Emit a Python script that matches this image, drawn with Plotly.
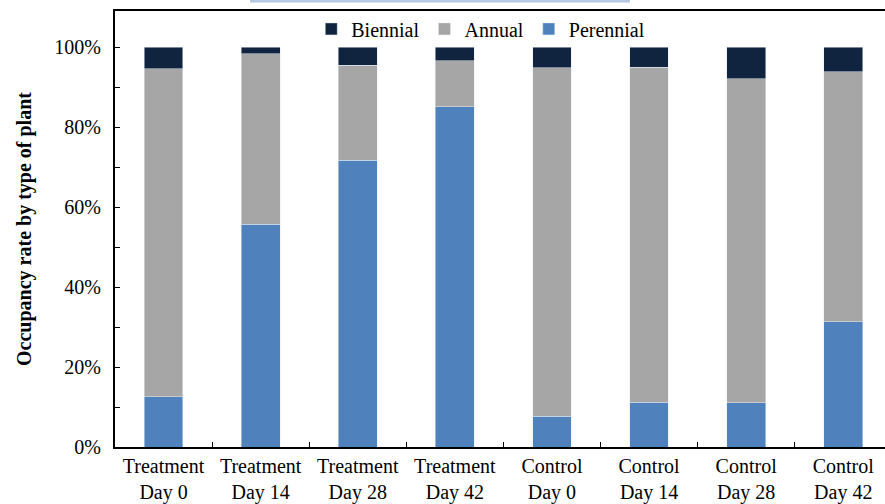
import plotly.graph_objects as go

categories = ["Treatment<br>Day 0", "Treatment<br>Day 14", "Treatment<br>Day 28", "Treatment<br>Day 42",
              "Control<br>Day 0", "Control<br>Day 14", "Control<br>Day 28", "Control<br>Day 42"]
perennial = [12.6, 55.8, 71.7, 85.2, 7.7, 11.2, 11.1, 31.3]
annual = [82.0, 42.6, 23.8, 11.4, 87.2, 83.8, 81.1, 62.6]
biennial = [5.4, 1.6, 4.5, 3.4, 5.1, 5.0, 7.8, 6.1]

perennial = [v / 100 for v in perennial]
annual = [v / 100 for v in annual]
biennial = [v / 100 for v in biennial]

FONT = "Liberation Serif, Times New Roman, serif"

fig = go.Figure()
fig.add_trace(go.Bar(x=categories, y=perennial, name="Perennial", marker_color="#4F81BD", width=0.4))
fig.add_trace(go.Bar(x=categories, y=annual, name="Annual", marker_color="#A6A6A6", width=0.4))
fig.add_trace(go.Bar(x=categories, y=biennial, name="Biennial", marker_color="#11243F", width=0.4))

fig.update_layout(
    barmode="stack",
    width=885, height=504,
    margin=dict(l=115, r=0, t=11, b=53),
    paper_bgcolor="white", plot_bgcolor="white",
    font=dict(family=FONT, size=20, color="black"),
    showlegend=True,
    legend=dict(orientation="h", traceorder="reversed", x=0.475, xanchor="center",
                y=0.959, yanchor="middle", bgcolor="rgba(0,0,0,0)",
                font=dict(family=FONT, size=20), itemwidth=30, tracegroupgap=0),
    xaxis=dict(range=[-0.5, 7.43], showline=True, linecolor="black", linewidth=2, mirror=True,
               ticks="inside", ticklen=5, tickcolor="black", tickson="boundaries",
               tickfont=dict(family=FONT, size=20), showgrid=False, fixedrange=True),
    yaxis=dict(range=[0, 1.091], showline=True, linecolor="black", linewidth=2,
               tickvals=[0, 0.2, 0.4, 0.6, 0.8, 1.0], ticktext=["0%", "20%", "40%", "60%", "80%", "100%"],
               ticks="inside", ticklen=5, tickcolor="black", ticklabelstandoff=8,
               minor=dict(dtick=0.1, ticks="inside", ticklen=5, tickcolor="black", showgrid=False),
               showgrid=False, zeroline=False,
               tickfont=dict(family=FONT, size=20),
               title=dict(text="<b>Occupancy rate by type of plant</b>", font=dict(family=FONT, size=20), standoff=17)),
    shapes=[dict(type="rect", xref="paper", yref="paper", x0=(250 - 115) / 770, x1=(630 - 115) / 770,
                 y0=1 + 8.5 / 439.7, y1=1 + 13 / 439.7, fillcolor="#B4C8E2", line=dict(width=0), layer="above")],
)

fig.write_html("out.html", config={"displayModeBar": False},
               post_script="document.body.style.margin='0';document.body.style.overflow='hidden';")
